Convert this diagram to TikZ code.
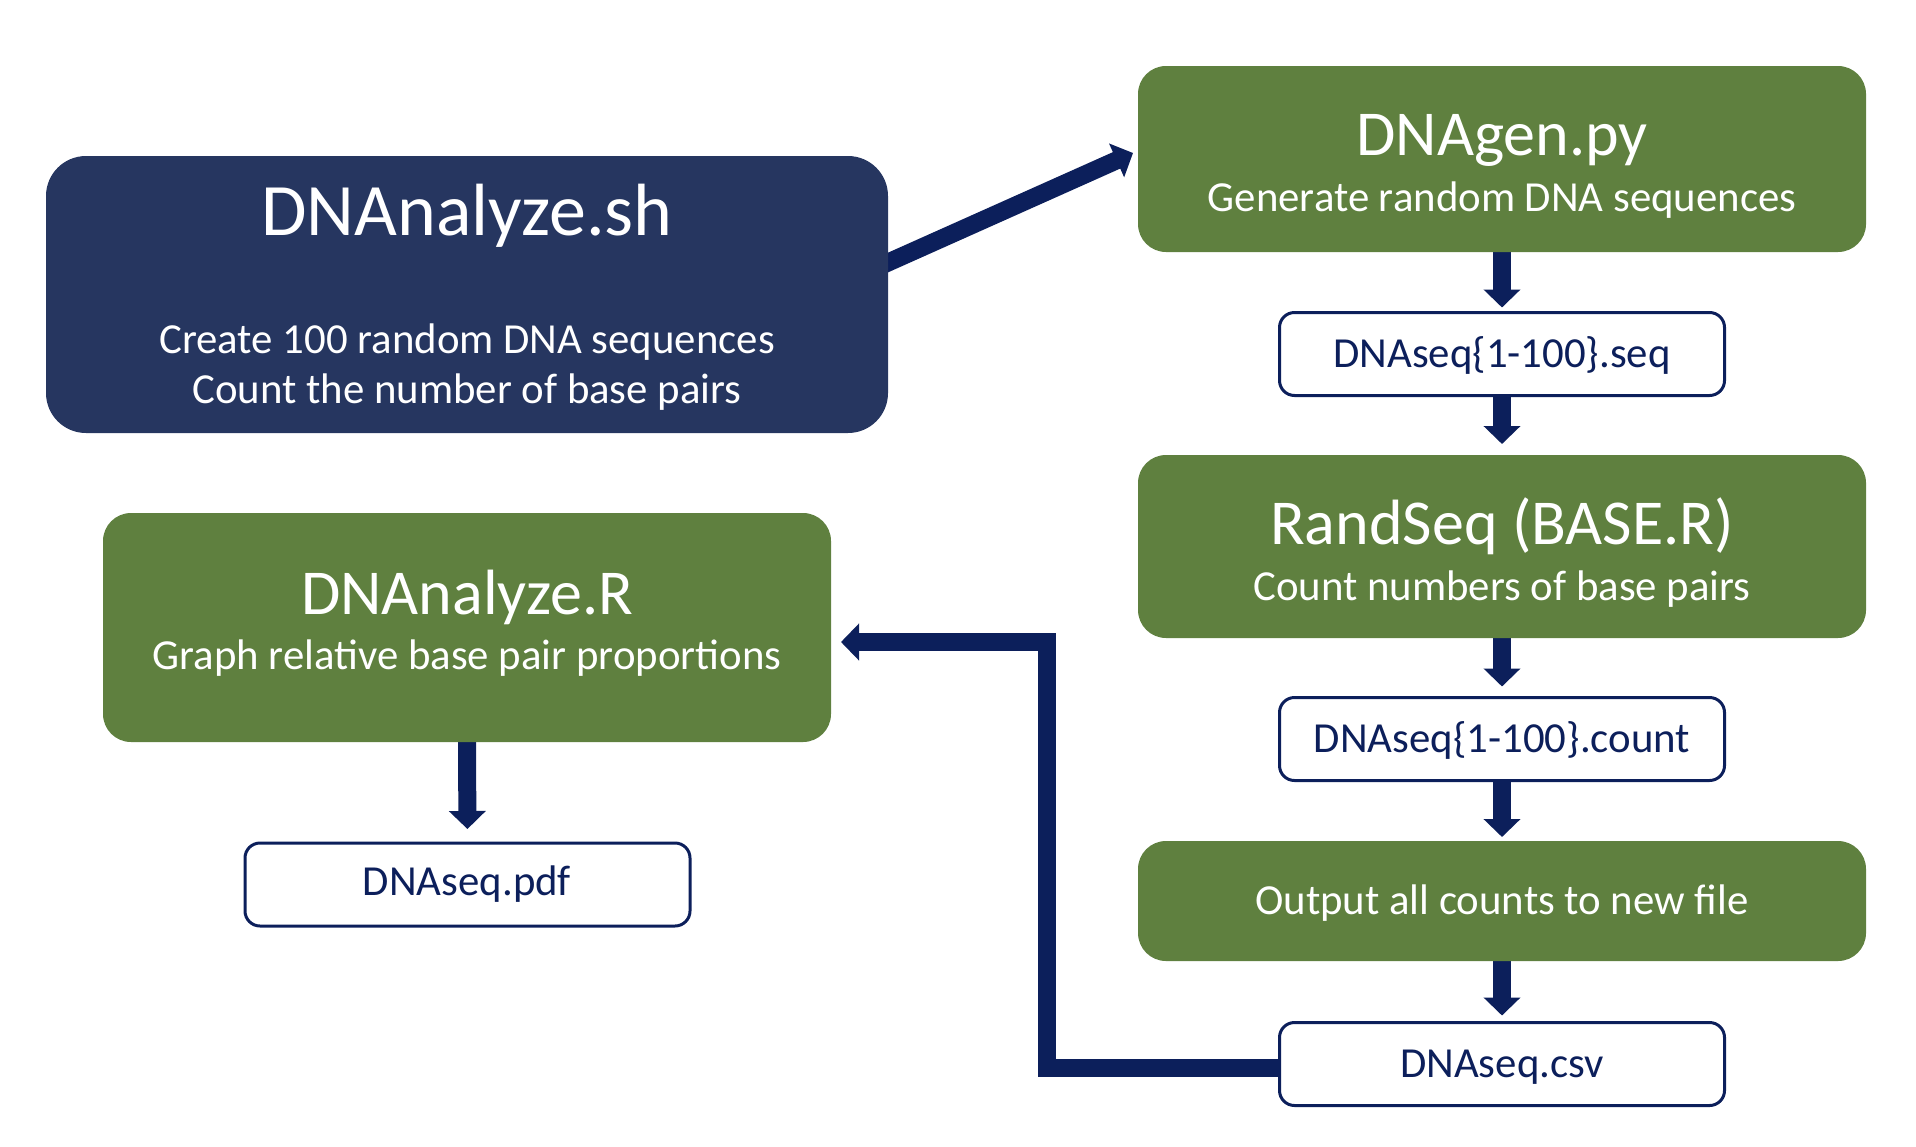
\documentclass[tikz,border=0pt]{standalone}
\usepackage{fontspec}
\setmainfont{Carlito}
\usetikzlibrary{arrows.meta,calc}
\definecolor{navybox}{HTML}{263660}
\definecolor{arrowc}{HTML}{0C1F5B}
\definecolor{greenfill}{HTML}{5F803F}
\pgfdeclarelayer{bg}
\pgfsetlayers{bg,main}
\begin{document}
\begin{tikzpicture}[x=0.5pt,y=-0.5pt,
  bigbox/.style={fill=navybox, rounded corners=20pt, inner sep=0pt, outer sep=0pt},
  grnbox/.style={fill=greenfill, rounded corners=14pt, inner sep=0pt, outer sep=0pt, minimum width=364pt},
  filebox/.style={draw=arrowc, line width=1.5pt, fill=white, rounded corners=7.5pt, inner sep=0pt, outer sep=0pt, minimum width=222.5pt, minimum height=41.5pt},
  bigttl/.style={text=white, font=\fontsize{37}{44}\selectfont, anchor=base, inner sep=0pt},
  ttl/.style={text=white, font=\fontsize{32}{38}\selectfont, anchor=base, inner sep=0pt},
  sub/.style={text=white, font=\fontsize{21.4}{26}\selectfont, anchor=base, inner sep=0pt},
  ftxt/.style={text=arrowc, font=\fontsize{21.4}{26}\selectfont, anchor=base, inner sep=0pt},
  flow/.style={draw=arrowc, line width=9pt, miter limit=10, line join=miter, -{Triangle[width=18pt,length=9pt]}},
]
\path[use as bounding box] (0,0) rectangle (1916,1146);

% boxes
\node[bigbox, minimum width=421pt, minimum height=138.5pt] (sh) at (467,294.5) {};
\node[grnbox, minimum height=93pt] (gen) at (1502,159) {};
\node[filebox] (seq) at (1502,354) {};
\node[grnbox, minimum height=91.5pt] (rand) at (1502,546.5) {};
\node[filebox] (count) at (1502,739) {};
\node[grnbox, minimum height=60pt] (out) at (1502,901) {};
\node[filebox] (csv) at (1502,1064) {};
\node[grnbox, minimum height=114.5pt] (R) at (467,627.5) {};
\node[filebox] (pdf) at (467.5,884.5) {};

% texts
\node[bigttl] (shT) at (467,235) {DNAnalyze.sh};
\node[sub] (shS1) at (467,353) {Create 100 random DNA sequences};
\node[sub] (shS2) at (467,403) {Count the number of base pairs};
\node[ttl] (genT) at (1502,155) {DNAgen.py};
\node[sub] (genS) at (1502,211) {Generate random DNA sequences};
\node[ftxt] (seqT) at (1502,367) {DNAseq\{1-100\}.seq};
\node[ttl] (randT) at (1502,544) {RandSeq (BASE.R)};
\node[sub] (randS) at (1502,600) {Count numbers of base pairs};
\node[ftxt] (countT) at (1502,752) {DNAseq\{1-100\}.count};
\node[sub] (outT) at (1502,914) {Output all counts to new file};
\node[ftxt] (csvT) at (1502,1077) {DNAseq.csv};
\node[ttl] (RT) at (467,614) {DNAnalyze.R};
\node[sub] (RS) at (467,669) {Graph relative base pair proportions};
\node[ftxt] (pdfT) at (467,895) {DNAseq.pdf};

% connectors
\coordinate (fb) at (1047,642);
\begin{pgfonlayer}{bg}
\draw[flow] ([xshift=-6pt,yshift=13.3pt]sh.east) -- ([xshift=-2.5pt,yshift=3pt]gen.west);
\draw[flow, shorten >=2.5pt] (gen.south) -- (seq.north);
\draw[flow, shorten >=5.5pt] (seq.south) -- (rand.north);
\draw[flow, shorten >=5.5pt] (rand.south) -- (count.north);
\draw[flow, shorten >=2pt] (count.south) -- (out.north);
\draw[flow, shorten >=3.5pt] (out.south) -- (csv.north);
\draw[flow, shorten >=7pt] (R.south) -- (pdf.north);
\draw[flow, shorten >=5pt] ([yshift=-2pt]csv.west) -| (fb) -- (fb -| R.east);
\end{pgfonlayer}
\end{tikzpicture}
\end{document}
